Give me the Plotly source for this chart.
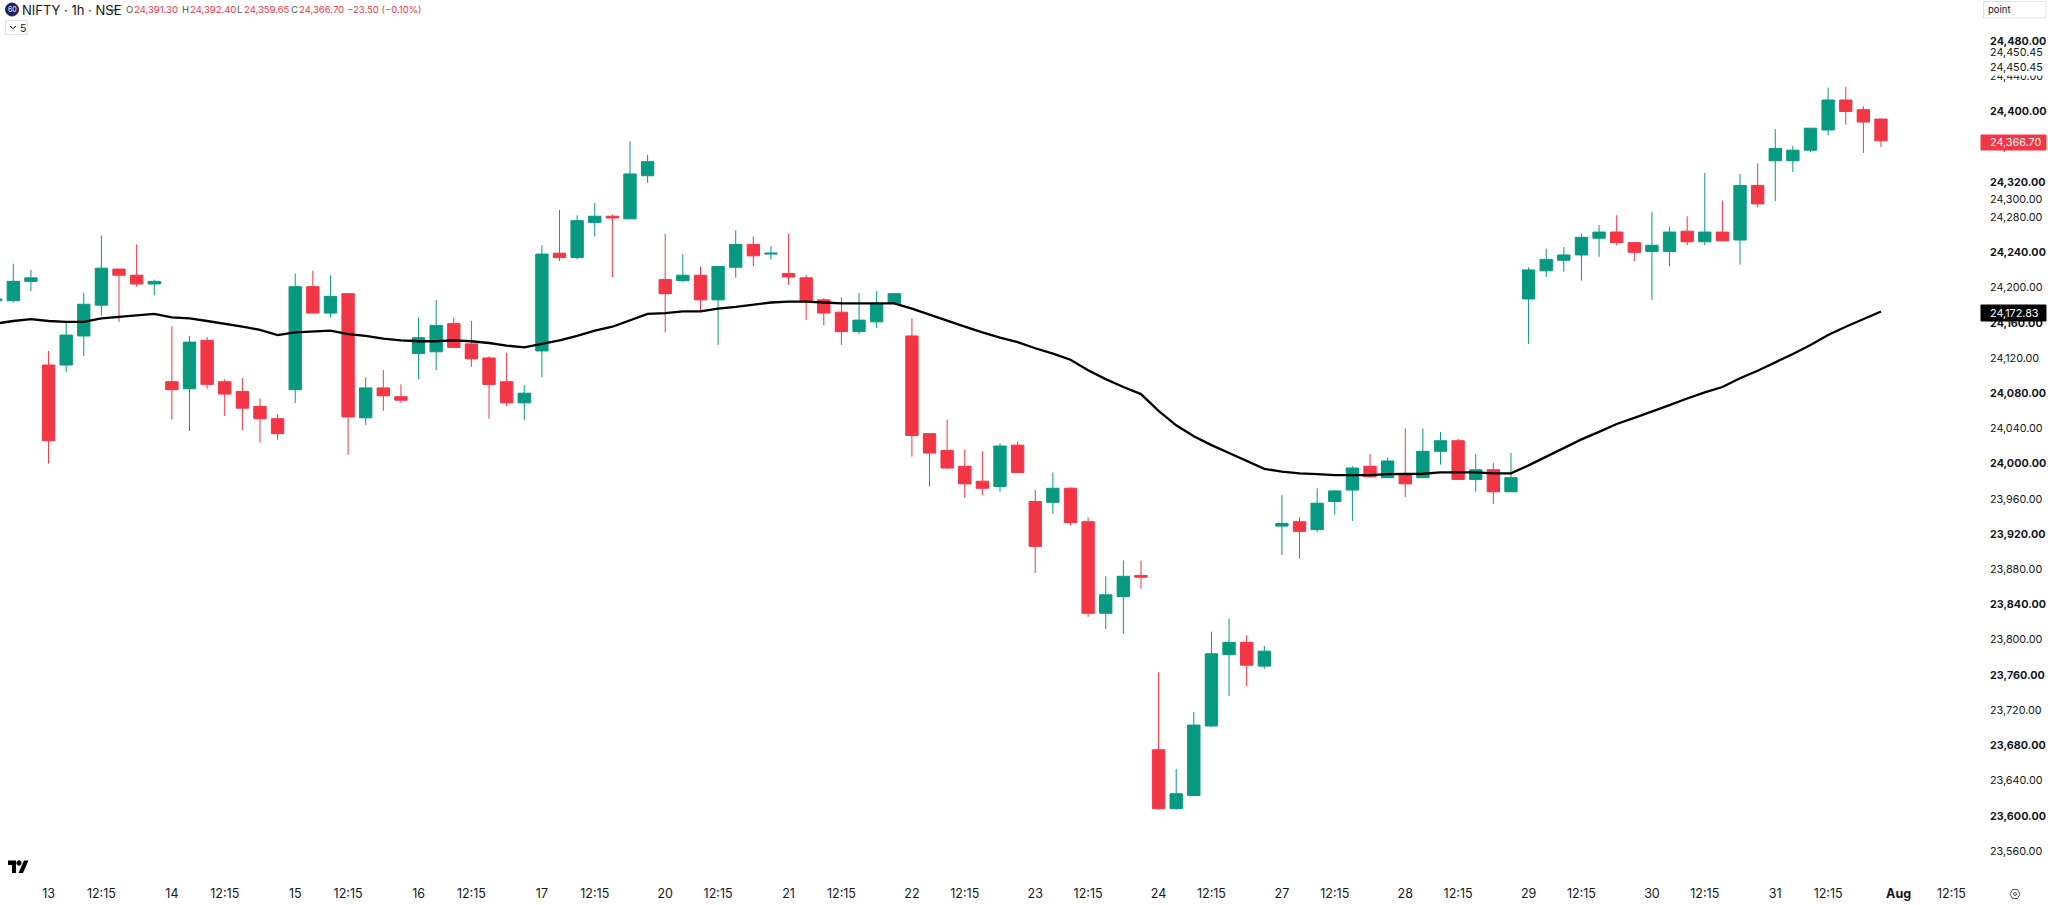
import plotly.graph_objects as go

# hourly NIFTY candles, 10 bars per row, first bar is the clipped one at the left edge
bar_no = list(range(-1, 107))

open_px = [
    24185, 24185, 24207, 24112, 24112, 24145, 24180, 24221, 24214, 24204,
    24093, 24085, 24140, 24093, 24082, 24065, 24051, 24084, 24201, 24171,
    24193, 24052, 24086, 24076, 24125, 24127, 24159, 24136, 24120, 24093,
    24069, 24128, 24239, 24234, 24274, 24281, 24278, 24327, 24209, 24208,
    24214, 24186, 24223, 24249, 24238, 24216, 24211, 24186, 24172, 24150,
    24161, 24182, 24145, 24034, 24015, 23997, 23980, 23974, 24021, 23957,
    23956, 23972, 23934, 23830, 23849, 23873, 23675, 23608, 23623, 23702,
    23783, 23797, 23770, 23929, 23934, 23925, 23957, 23970, 23997, 23984,
    23987, 23984, 24014, 24026, 23982, 23993, 23968, 24187, 24219, 24231,
    24237, 24256, 24263, 24251, 24241, 24241, 24264, 24252, 24263, 24254,
    24316, 24344, 24344, 24356, 24379, 24413, 24402, 24391.3,
]
high_px = [
    24190, 24227, 24220, 24128, 24161, 24194, 24259, 24221, 24249, 24209,
    24156, 24145, 24144, 24096, 24097, 24074, 24056, 24216, 24219, 24214,
    24193, 24098, 24106, 24090, 24166, 24186, 24166, 24162, 24122, 24126,
    24089, 24248, 24288, 24282, 24296, 24283, 24366, 24351, 24261, 24238,
    24224, 24224, 24265, 24258, 24247, 24261, 24214, 24188, 24189, 24194,
    24196, 24194, 24165, 24034, 24050, 24016, 24014, 24023, 24025, 23970,
    23990, 23973, 23939, 23872, 23890, 23890, 23763, 23653, 23718, 23809,
    23824, 23805, 23793, 23964, 23939, 23972, 23970, 23997, 24011, 24007,
    24040, 24040, 24036, 24028, 24011, 24001, 24012, 24223, 24244, 24246,
    24261, 24271, 24282, 24251, 24286, 24269, 24281, 24330, 24299, 24329,
    24341, 24380, 24361, 24381, 24427, 24428, 24406, 24392.4,
]
low_px = [
    24180, 24183, 24196, 24000, 24104, 24122, 24168, 24161, 24201, 24191,
    24050, 24037, 24085, 24054, 24038, 24024, 24027, 24069, 24171, 24166,
    24010, 24044, 24060, 24069, 24096, 24106, 24132, 24110, 24051, 24065,
    24049, 24098, 24230, 24232, 24258, 24212, 24278, 24319, 24149, 24206,
    24173, 24135, 24211, 24224, 24232, 24203, 24163, 24157, 24135, 24147,
    24154, 24182, 24008, 23974, 23994, 23961, 23964, 23968, 23990, 23876,
    23943, 23930, 23826, 23812, 23807, 23858, 23607, 23607, 23623, 23701,
    23736, 23747, 23767, 23896, 23892, 23922, 23942, 23935, 23984, 23984,
    23962, 23984, 23999, 23982, 23968, 23954, 23968, 24136, 24212, 24218,
    24208, 24235, 24248, 24230, 24186, 24224, 24248, 24248, 24253, 24226,
    24291, 24298, 24331, 24354, 24373, 24385, 24353, 24359.65,
]
close_px = [
    24187, 24207, 24211, 24026, 24146, 24181, 24222, 24214, 24204, 24207,
    24084, 24138, 24090, 24079, 24063, 24051, 24034, 24201, 24171, 24190,
    24053, 24086, 24077, 24072, 24143, 24157, 24132, 24119, 24090, 24069,
    24080, 24238, 24234, 24276, 24281, 24279, 24329, 24343, 24193, 24214,
    24186, 24224, 24249, 24236, 24239, 24212, 24184, 24171, 24150, 24163,
    24182, 24193, 24032, 24012, 23995, 23977, 23972, 24020, 23990, 23906,
    23972, 23933, 23830, 23851, 23872, 23871, 23608, 23625, 23703, 23784,
    23797, 23771, 23787, 23932, 23923, 23955, 23969, 23995, 23985, 24003,
    23977, 24014, 24026, 23982, 23993, 23968, 23984, 24220, 24232, 24237,
    24257, 24263, 24251, 24240, 24248, 24263, 24252, 24263, 24253, 24316,
    24295, 24358, 24356, 24381, 24413, 24400, 24388, 24366.7,
]
ma_px = [
    24159, 24162, 24164, 24162, 24161, 24161, 24165, 24166.5, 24168, 24170,
    24166, 24165, 24162, 24159, 24155.5, 24152, 24146, 24149, 24150, 24151,
    24147, 24145, 24142, 24140, 24139, 24139, 24140, 24139, 24137, 24134,
    24132, 24136, 24140, 24145, 24151, 24155.5, 24163, 24170, 24171, 24173,
    24173, 24176, 24178, 24180.5, 24183, 24184, 24184, 24183, 24182, 24182,
    24182, 24182, 24176, 24169, 24162, 24155.5, 24149, 24143, 24138, 24131,
    24125, 24118, 24106, 24096, 24087, 24079, 24060, 24043.5, 24031, 24021,
    24012, 24003, 23994, 23991, 23989, 23988, 23987, 23987, 23987, 23988,
    23988, 23988.5, 23990, 23990, 23990, 23989, 23989, 23998, 24008, 24018,
    24027.5, 24036, 24045, 24052, 24059, 24066.5, 24074, 24081, 24087, 24097,
    24105.5, 24114.6, 24124.5, 24134.7, 24146, 24155.5, 24164, 24172.83,
]

x_ticks = [2, 5, 9, 12, 16, 19, 23, 26, 30, 33, 37, 40, 44, 47, 51, 54,
           58, 61, 65, 68, 72, 75, 79, 82, 86, 89, 93, 96, 100, 103, 107, 110]
x_labels = ["13", "12:15", "14", "12:15", "15", "12:15", "16", "12:15",
            "17", "12:15", "20", "12:15", "21", "12:15", "22", "12:15",
            "23", "12:15", "24", "12:15", "27", "12:15", "28", "12:15",
            "29", "12:15", "30", "12:15", "31", "12:15", "<b>Aug</b>", "12:15"]

y_ticks = [24480, 24440, 24400, 24360, 24320, 24300, 24280, 24240, 24200, 24160,
           24120, 24080, 24040, 24000, 23960, 23920, 23880, 23840, 23800,
           23760, 23720, 23680, 23640, 23600, 23560]
y_bold = [24480, 24400, 24320, 24240, 24160, 24080, 24000, 23920, 23840,
          23760, 23680, 23600]

RED = "#F23645"
GREEN = "#089981"
INK = "#131722"
FONT = "Inter"

PLOT_RIGHT = 1986
PLOT_BOTTOM = 884


def px(x):
    return x / PLOT_RIGHT


def py(y):
    return 1 - y / PLOT_BOTTOM


def y_label(v):
    s = f"{v:,.2f}"
    return f"<b>{s}</b>" if v in y_bold else s


def box(x0, y0, x1, y1, fill="white", line=None):
    return dict(type="rect", xref="paper", yref="paper", x0=px(x0), x1=px(x1), y0=py(y0), y1=py(y1),
                fillcolor=fill, line=dict(color=line or fill, width=1), layer="above")


def dot(cx, cy, r, fill, line=None):
    return dict(type="circle", xref="paper", yref="paper", x0=px(cx - r), x1=px(cx + r),
                y0=py(cy - r), y1=py(cy + r), fillcolor=fill,
                line=dict(color=line or fill, width=1), layer="above")


def poly(points, fill=None, line=None, closed=True):
    d = "M" + " L".join(f"{px(a):.5f},{py(b):.5f}" for a, b in points) + (" Z" if closed else "")
    return dict(type="path", xref="paper", yref="paper", path=d, layer="above",
                fillcolor=fill or "rgba(0,0,0,0)",
                line=dict(color=line or "rgba(0,0,0,0)", width=1))


def text(s, x, y, size=11, color=INK, anchor="left"):
    return dict(text=s, xref="paper", yref="paper", x=px(x), y=py(y), xanchor=anchor, yanchor="middle",
                showarrow=False, font=dict(family=FONT, size=size, color=color), borderpad=0)


fig = go.Figure()
fig.add_trace(go.Candlestick(
    x=bar_no, open=open_px, high=high_px, low=low_px, close=close_px,
    whiskerwidth=0,
    increasing=dict(line=dict(color=GREEN, width=1), fillcolor=GREEN),
    decreasing=dict(line=dict(color=RED, width=1), fillcolor=RED),
))
fig.add_trace(go.Scatter(x=bar_no, y=ma_px, mode="lines", line=dict(color="#000000", width=2.3)))

shapes = [
    # covers over the crowded price scale
    box(1987, 60, 2047, 75),
    box(1981, 135, 2046, 150, fill=RED),
    box(1981, 305, 2046, 321, fill="#000000"),
    # header furniture
    dot(12, 9.5, 6.5, "#1E1F5C"),
    dot(113, 10, 6, "#F0F3FA"),
    box(110, 9.5, 116, 10.5, fill="#8A8E99"),
    box(5.5, 20.5, 27.5, 34.5, line="#E0E3EB"),
    poly([(10, 26), (13, 28.5), (16, 26)], line=INK, closed=False),
    box(1983.5, 1.5, 2046, 18, line="#E0E3EB"),
    # logo bottom left
    poly([(8, 860.5), (16, 860.5), (16, 873), (12, 873), (12, 865), (8, 865)], fill="#000000"),
    dot(19, 863, 2.2, "#000000"),
    poly([(24, 860.5), (28.5, 860.5), (23, 873), (18.5, 873)], fill="#000000"),
    # settings icon bottom right
    poly([(2010, 894), (2012.5, 889.5), (2017.5, 889.5), (2020, 894), (2017.5, 898.5), (2012.5, 898.5)],
         line="#50535E"),
    dot(2015, 894, 1.5, "white", line="#50535E"),
]

annotations = [
    text("60", 12, 9.5, size=7, color="white", anchor="center"),
    text("NIFTY · 1h · NSE", 21, 10, size=13),
    text("5", 19, 28, size=10.5),
    text("point", 1987, 10, size=9.5),
    text("24,450.45", 1989, 52, size=10.8),
    text("24,450.45", 1989, 68, size=10.8),
    text("24,366.70", 1989, 142.5, size=10.8, color="white"),
    text("24,172.83", 1989, 313, size=10.8, color="white"),
]
for label, value, lx, vx in [("O", "24,391.30", 125, 133), ("H", "24,392.40", 181, 189),
                             ("L", "24,359.65", 236, 243), ("C", "24,366.70", 290, 298)]:
    annotations.append(text(label, lx, 10, size=9.5, color="#50535E"))
    annotations.append(text(value, vx, 10, size=9.5, color=RED))
annotations.append(text("−23.50 (−0.10%)", 346, 10, size=9.5, color=RED))

fig.update_layout(
    width=2048,
    height=905,
    margin=dict(l=0, r=2048 - PLOT_RIGHT, t=0, b=905 - PLOT_BOTTOM),
    paper_bgcolor="white",
    plot_bgcolor="white",
    showlegend=False,
    boxgap=0,
    boxgroupgap=0.3,
    font=dict(family=FONT, size=11, color=INK),
    shapes=shapes,
    annotations=annotations,
)
fig.update_xaxes(
    range=[-0.755, 111.96], tickmode="array", tickvals=x_ticks, ticktext=x_labels,
    tickfont=dict(size=12.5),
    showgrid=False, zeroline=False, showline=False, ticks="", rangeslider=dict(visible=False),
)
fig.update_yaxes(
    range=[23522.5, 24526.6], side="right", tickmode="array", tickvals=y_ticks,
    ticktext=[y_label(v) for v in y_ticks], tickfont=dict(size=10.8), ticklabelstandoff=3,
    showgrid=False, zeroline=False, showline=False, ticks="",
)

fig.write_html("out.html", config={"displayModeBar": False},
               post_script="document.body.style.margin='0';")
